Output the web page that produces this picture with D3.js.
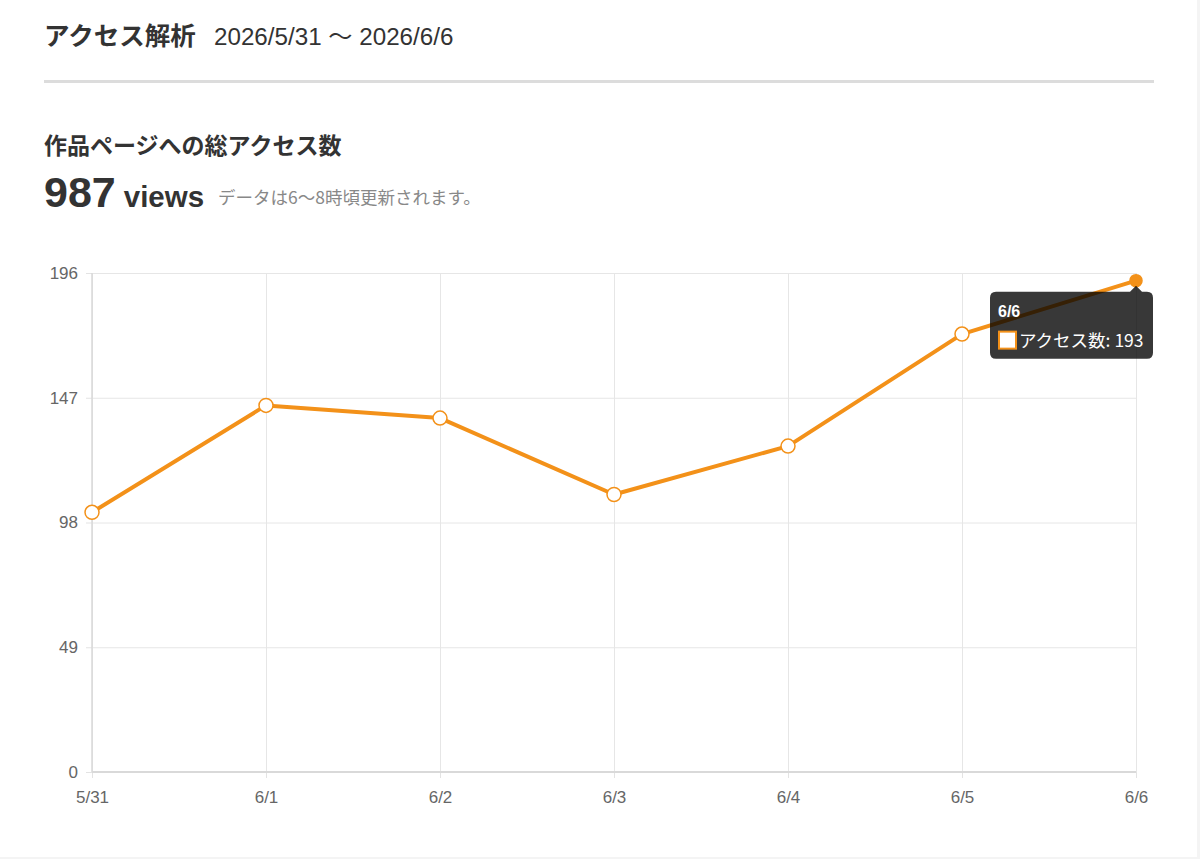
<!DOCTYPE html>
<html><head><meta charset="utf-8">
<script src="https://cdn.jsdelivr.net/npm/d3@7"></script>
<style>
html,body{margin:0;padding:0;background:#f4f4f4;}
svg{display:block;}
</style></head>
<body>
<svg id="c" width="1200" height="859"></svg>
<script>
const categories = ["5/31","6/1","6/2","6/3","6/4","6/5","6/6"];
const accessValues = [102,144,139,109,128,172,193];
const yTicks = [0,49,98,147,196];
const seriesName = "アクセス数";
const titleText = "アクセス解析";
const rangeText = "2026/5/31 〜 2026/6/6";
const subTitle = "作品ページへの総アクセス数";
const totalViews = 987;
const noteText = "データは6〜8時頃更新されます。";
const hoverIndex = 6;

const FONT = '"Liberation Sans","Noto Sans CJK JP",sans-serif';
const JP = '"Noto Sans CJK JP","Liberation Sans",sans-serif';
const orange = "#f39119";

const svg = d3.select("#c");
svg.append("rect").attr("x",0).attr("y",0).attr("width",1197).attr("height",857).attr("fill","#fff");

// header
svg.append("text").attr("x",44).attr("y",45).attr("font-family",JP).attr("font-weight","bold")
  .attr("font-size",25.5).attr("fill","#333").text(titleText);
svg.append("text").attr("x",214).attr("y",45).attr("font-family",FONT)
  .attr("font-size",24.2).attr("fill","#333").text(rangeText);
svg.append("rect").attr("x",44).attr("y",80).attr("width",1110).attr("height",3).attr("fill","#dcdcdc");

svg.append("text").attr("x",44).attr("y",154).attr("font-family",JP).attr("font-weight","bold")
  .attr("font-size",23).attr("fill","#333").text(subTitle);
const tv = svg.append("text").attr("x",44).attr("y",207).attr("font-family",FONT).attr("fill","#333");
tv.append("tspan").attr("font-size",43).attr("font-weight","bold").text(totalViews);
tv.append("tspan").attr("font-size",29.5).attr("font-weight","bold").attr("dx",8).text("views");
svg.append("text").attr("x",218).attr("y",204).attr("font-family",JP)
  .attr("font-size",17.5).attr("fill","#888").text(noteText);

// chart
const x = d3.scalePoint().domain(categories).range([92,1136]);
const y = d3.scaleLinear().domain([0,196]).range([772,273]);

const g = svg.append("g");
g.append("g").attr("transform","translate(92,0)")
  .call(d3.axisLeft(y).tickValues(yTicks).tickSize(6).tickPadding(8))
  .call(a=>{
    a.select(".domain").remove();
    a.selectAll(".tick line").attr("stroke","#e3e3e3");
    a.selectAll(".tick").append("line").attr("x1",0).attr("x2",1044).attr("stroke","#e6e6e6");
    a.selectAll("text").attr("font-family",FONT).attr("font-size",17).attr("fill","#666");
  });
g.append("g").attr("transform","translate(0,772)")
  .call(d3.axisBottom(x).tickSize(6).tickPadding(13))
  .call(a=>{
    a.select(".domain").remove();
    a.selectAll(".tick line").attr("stroke","#e3e3e3");
    a.selectAll(".tick").append("line").attr("y1",0).attr("y2",-499).attr("stroke","#e6e6e6");
    a.selectAll("text").attr("font-family",FONT).attr("font-size",17).attr("fill","#666");
  });
g.append("line").attr("x1",92).attr("x2",92).attr("y1",273).attr("y2",772).attr("stroke","#d9d9d9").attr("stroke-width",1.5);
g.append("line").attr("x1",92).attr("x2",1136).attr("y1",772).attr("y2",772).attr("stroke","#d9d9d9").attr("stroke-width",2);

const data = categories.map((c,i)=>({c,v:accessValues[i],i}));
g.append("path").datum(data)
  .attr("d",d3.line().x(d=>x(d.c)).y(d=>y(d.v)))
  .attr("fill","none").attr("stroke",orange).attr("stroke-width",4).attr("stroke-linejoin","round");
g.selectAll("circle.pt").data(data).join("circle").attr("class","pt")
  .attr("cx",d=>x(d.c)).attr("cy",d=>y(d.v))
  .attr("r",d=>d.i===hoverIndex?6:7)
  .attr("fill",d=>d.i===hoverIndex?orange:"#fff")
  .attr("stroke",orange).attr("stroke-width",1.5);

// tooltip
const hd = data[hoverIndex];
const px = x(hd.c), py = y(hd.v);
const tw = 163, th = 67, tx = px - 146, ty = py + 11;
const tt = svg.append("g");
const r = 6, cw = 6;
const p = d3.path();
p.moveTo(tx+r,ty);
p.lineTo(px-cw,ty); p.lineTo(px,ty-cw); p.lineTo(px+cw,ty);
p.lineTo(tx+tw-r,ty); p.quadraticCurveTo(tx+tw,ty,tx+tw,ty+r);
p.lineTo(tx+tw,ty+th-r); p.quadraticCurveTo(tx+tw,ty+th,tx+tw-r,ty+th);
p.lineTo(tx+r,ty+th); p.quadraticCurveTo(tx,ty+th,tx,ty+th-r);
p.lineTo(tx,ty+r); p.quadraticCurveTo(tx,ty,tx+r,ty); p.closePath();
tt.append("path").attr("d",p.toString()).attr("fill","rgba(0,0,0,0.78)");
tt.append("text").attr("x",tx+8).attr("y",ty+25).attr("font-family",FONT).attr("font-weight","bold")
  .attr("font-size",16).attr("fill","#fff").text(hd.c);
tt.append("rect").attr("x",tx+9).attr("y",ty+40).attr("width",17).attr("height",17)
  .attr("fill","#fff").attr("stroke",orange).attr("stroke-width",2);
tt.append("text").attr("x",tx+29).attr("y",ty+55).attr("font-family",JP)
  .attr("font-size",17.5).attr("fill","#fff").text(seriesName + ": " + hd.v);
</script>
</body></html>
